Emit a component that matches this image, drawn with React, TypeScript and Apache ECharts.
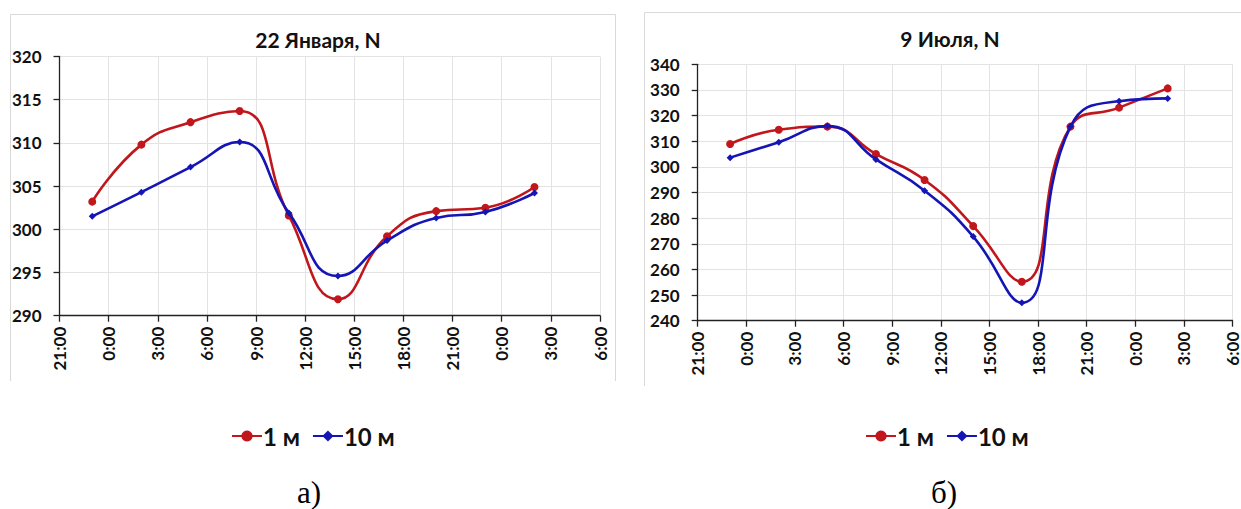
import React, { useEffect, useRef } from "react";
import * as echarts from "echarts";

const timeLabels = ["23:00", "2:00", "5:00", "8:00", "11:00", "14:00", "17:00", "20:00", "23:00", "2:00"];
const janRed1m = [303.2, 309.8, 312.4, 313.7, 301.6, 291.9, 299.2, 302.1, 302.5, 304.9];
const janBlue10m = [301.5, 304.3, 307.2, 310.1, 301.9, 294.6, 298.7, 301.3, 302.0, 304.2];
const julRed1m = [308.9, 314.5, 315.7, 305.0, 294.9, 276.9, 255.2, 315.7, 323.1, 330.6];
const julBlue10m = [303.6, 309.6, 315.9, 302.9, 290.7, 272.8, 247.0, 315.7, 325.6, 326.7];
const seriesNames = ["1 м", "10 м"];
const titles = ["22 Января, N", "9 Июля, N"];
const panelLabels = ["а)", "б)"];

// convert clock labels to continuous hours starting at 21:00 of day 0
function toHours(labels: string[]): number[] {
  const out: number[] = [];
  let dayOffset = 0;
  let prev = -1;
  for (const l of labels) {
    const h = parseInt(l.split(":")[0], 10);
    if (prev >= 0 && h + dayOffset < prev) dayOffset += 24;
    const v = h + dayOffset;
    out.push(v);
    prev = v;
  }
  return out;
}

const RED = "#C0161C";
const BLUE = "#1515B5";
const FONT = "Lato";

export default function App() {
  const ref = useRef<HTMLDivElement>(null);
  useEffect(() => {
    if (!ref.current) return;
    const chart = echarts.init(ref.current, undefined, { renderer: "svg" });
    const hrs = toHours(timeLabels);
    const pair = (vals: number[]) => hrs.map((h, i) => [h, vals[i]]);

    const xAxisBase = (gridIndex: number) => ({
      type: "value" as const,
      gridIndex,
      min: 21,
      max: 54,
      interval: 3,
      axisLine: { show: true, lineStyle: { color: "#222", width: 1.3 } },
      axisTick: { show: true, length: 6, lineStyle: { color: "#222", width: 1.3 } },
      splitLine: { show: true, lineStyle: { color: "#e3e3e3", width: 1 } },
      axisLabel: {
        rotate: 90,
        color: "#111",
        fontFamily: FONT,
        fontWeight: "bold" as const,
        fontSize: 17,
        margin: 11,
        formatter: (v: number) => `${v % 24}:00`,
      },
    });
    const yAxisBase = (gridIndex: number, min: number, max: number, interval: number) => ({
      type: "value" as const,
      gridIndex,
      min,
      max,
      interval,
      axisLine: { show: true, lineStyle: { color: "#222", width: 1.3 } },
      axisTick: { show: true, length: 6, lineStyle: { color: "#222", width: 1.3 } },
      splitLine: { show: true, lineStyle: { color: "#e3e3e3", width: 1 } },
      axisLabel: {
        color: "#111",
        fontFamily: FONT,
        fontWeight: "bold" as const,
        fontSize: 17,
        margin: 18,
      },
    });
    const lineSeries = (name: string, data: number[][], idx: number, color: string, symbol: string, size: number) => ({
      type: "line" as const,
      name,
      xAxisIndex: idx,
      yAxisIndex: idx,
      data,
      smooth: 0.5,
      symbol,
      symbolSize: size,
      showSymbol: true,
      lineStyle: { color, width: 2.6 },
      itemStyle: { color },
      z: name === seriesNames[1] ? 3 : 2,
    });
    const legendBase = (left: number) => ({
      left,
      top: 419,
      itemWidth: 30,
      itemHeight: 14,
      itemGap: 12,
      textStyle: { fontFamily: FONT, fontWeight: "bold" as const, fontSize: 24, color: "#111", padding: [0, 0, 0, -4] },
      data: [{ name: seriesNames[0] }, { name: seriesNames[1] }],
    });

    chart.setOption({
      animation: false,
      backgroundColor: "#ffffff",
      title: [
        {
          text: titles[0],
          left: 313,
          top: 24,
          textAlign: "center",
          textStyle: { fontFamily: FONT, fontWeight: "bold", fontSize: 21, color: "#111" },
        },
        {
          text: titles[1],
          left: 945,
          top: 23,
          textAlign: "center",
          textStyle: { fontFamily: FONT, fontWeight: "bold", fontSize: 21, color: "#111" },
        },
      ],
      grid: [
        { left: 59.5, top: 56.5, width: 540.5, height: 259.2 },
        { left: 697.7, top: 64.3, width: 541.3, height: 256.4 },
      ],
      xAxis: [xAxisBase(0), xAxisBase(1)],
      yAxis: [yAxisBase(0, 290, 320, 5), yAxisBase(1, 240, 340, 10)],
      legend: [legendBase(226), legendBase(860)],
      series: [
        lineSeries(seriesNames[0], pair(janRed1m), 0, RED, "circle", 8),
        lineSeries(seriesNames[1], pair(janBlue10m), 0, BLUE, "diamond", 7),
        lineSeries(seriesNames[0], pair(julRed1m), 1, RED, "circle", 8),
        lineSeries(seriesNames[1], pair(julBlue10m), 1, BLUE, "diamond", 7),
      ],
      graphic: [
        {
          type: "polyline",
          silent: true,
          shape: { points: [[10.5, 381], [10.5, 14.5], [615.5, 14.5], [615.5, 381]] },
          style: { stroke: "#d9d9d9", lineWidth: 1, fill: "none" },
        },
        {
          type: "polyline",
          silent: true,
          shape: { points: [[644.5, 386], [644.5, 12.5], [1245, 12.5]] },
          style: { stroke: "#d9d9d9", lineWidth: 1, fill: "none" },
        },
        {
          type: "text",
          left: 297,
          top: 477,
          style: { text: panelLabels[0], font: "31px 'Liberation Serif'", fill: "#000" },
        },
        {
          type: "text",
          left: 931,
          top: 477,
          style: { text: panelLabels[1], font: "31px 'Liberation Serif'", fill: "#000" },
        },
      ],
    });
    return () => chart.dispose();
  }, []);
  return (
    <div
      ref={ref}
      style={{ position: "fixed", left: 0, top: 0, width: 1241, height: 509, background: "#fff" }}
    />
  );
}
